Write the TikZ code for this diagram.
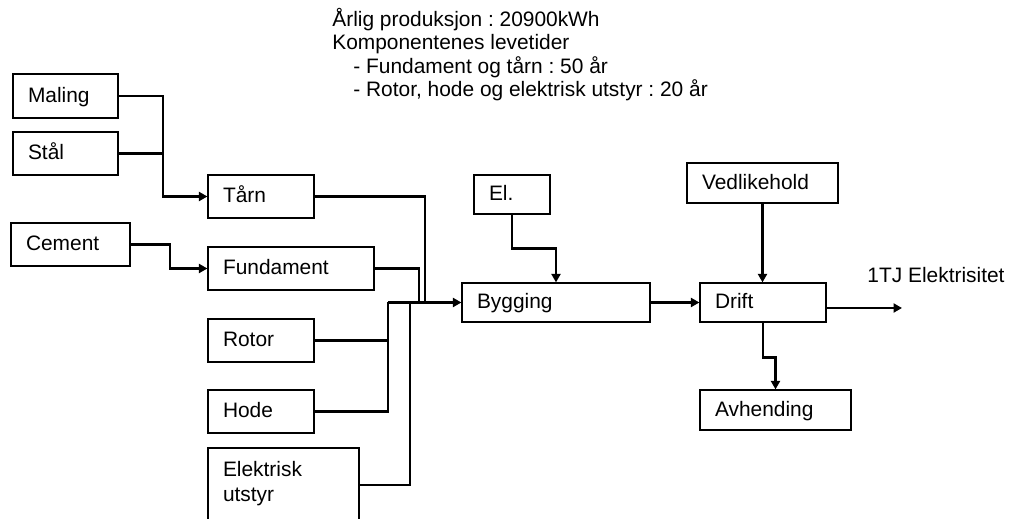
\documentclass[tikz,border=0pt]{standalone}
\usepackage{fontspec}
\setmainfont{Liberation Sans}
\usetikzlibrary{arrows.meta}
\frenchspacing

\begin{document}
\begin{tikzpicture}[x=0.02cm,y=-0.02cm,font=\fontsize{11.9}{14.2}\selectfont,>={Triangle[length=1.7mm,width=1.8mm]},
 unit/.style={draw,line width=.7pt,inner xsep=.3cm,inner ysep=0pt,align=left,minimum height=.86cm,text height=.716em,text depth=0pt},
 flow/.style={line width=1.5pt}]
\useasboundingbox (0,0) rectangle (1014,519);
\node[anchor=north west,inner sep=0pt,align=left,font=\fontsize{11.9}{13.3}\selectfont] (info) at (332,8) {Årlig produksjon : 20900kWh\\Komponentenes levetider\\\hspace{.42cm}- Fundament og tårn : 50 år\\\hspace{.42cm}- Rotor, hode og elektrisk utstyr : 20 år};
% materialer
\node[unit,text width=1.5cm,minimum height=.88cm] (mal) at (65.5,96) {Maling};
\node[unit,text width=1.5cm] (stal) at (65.5,153.5) {Stål};
\node[unit,text width=1.78cm] (cem) at (70.5,244.5) {Cement};
% komponenter
\node[unit,text width=1.52cm] (tarn) at (261,196.5) {Tårn};
\node[unit,text width=2.72cm] (fund) at (291,268.5) {Fundament};
\node[unit,text width=1.52cm] (rot) at (261,340.5) {Rotor};
\node[unit,text width=1.52cm] (hode) at (261,411.5) {Hode};
\node[unit,text width=2.42cm,minimum height=1.48cm,text depth=17pt] (elek) at (283.5,485) {Elektrisk\\utstyr};
% livsløp
\node[unit,text width=.92cm,minimum height=.78cm] (el) at (512,194.5) {El.};
\node[unit,text width=3.16cm,minimum height=.78cm] (byg) at (556,302.5) {Bygging};
\node[unit,text width=2.42cm,minimum height=.8cm] (ved) at (762.5,183) {Vedlikehold};
\node[unit,text width=1.92cm,minimum height=.78cm] (drift) at (763,302.5) {Drift};
\node[unit,text width=2.42cm,minimum height=.8cm] (avh) at (775.5,410) {Avhending};
\node (elec) at (936,275) {1TJ Elektrisitet};
\coordinate (j1) at (163,0);
\coordinate (j2) at (170,0);
\coordinate (bus) at (388,302.5);
\coordinate (t1) at (425,302.5);
\coordinate (f1) at (419,302.5);
\coordinate (e1) at (410,302.5);
\coordinate (out) at (902,308);
\draw[flow,->] (mal.east) -| (j1 |- tarn.west) -- (tarn.west);
\draw[flow] (stal.east) -- (stal.east -| j1);
\draw[flow,->] (cem.east) -| (j2 |- fund.west) -- (fund.west);
\foreach \n in {rot,hode}{\draw[flow] (\n.east) -| (bus);}
\foreach \n/\c in {tarn/t1,fund/f1,elek/e1}{\draw[flow] (\n.east) -| (\c);}
\draw[flow,->] (bus) -- (byg.west);
\draw[flow,->] (el.south) -- ++(0,34) -| (byg.north);
\draw[flow,->] (byg.east) -- (drift.west);
\draw[flow,->] (ved.south) -- (ved.south |- drift.north);
\draw[flow,->] (drift.south) -- ++(0,35) -| (avh.north);
\draw[flow,->] (drift.east |- out) -- (out);
\end{tikzpicture}
\end{document}
